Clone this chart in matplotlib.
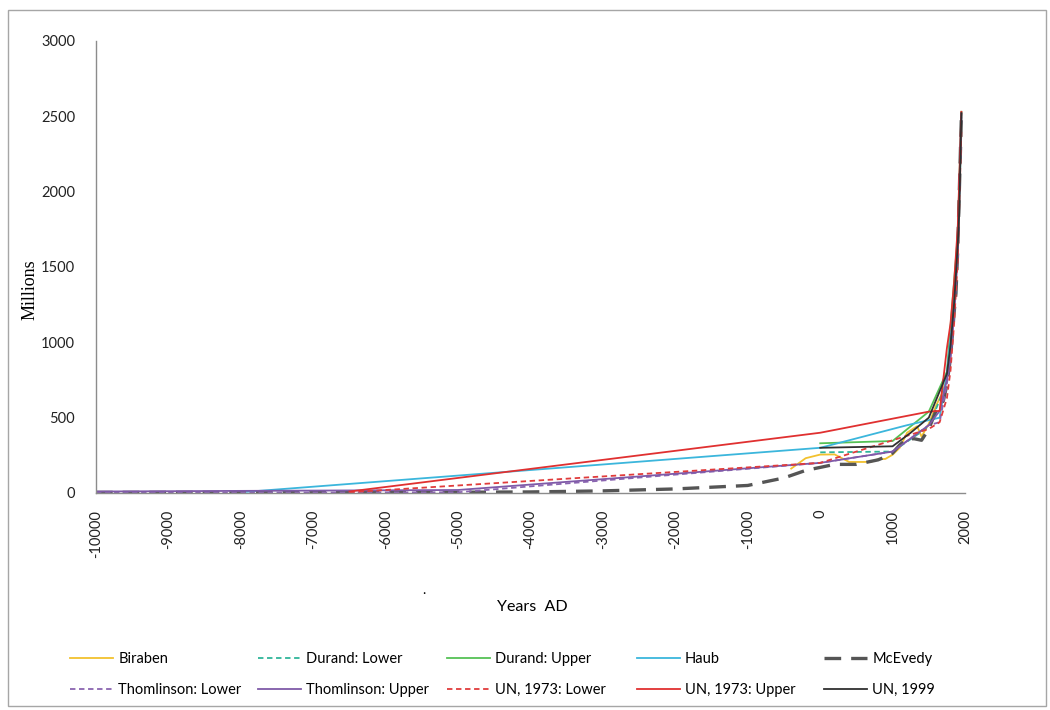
import matplotlib
matplotlib.use('Agg')
import matplotlib.pyplot as plt
from matplotlib.patches import Rectangle

# ---- data (millions) ----
biraben_years = [-400, -200, 1, 200, 400, 500, 600, 700, 800, 900, 1000, 1100, 1200, 1250,
                 1300, 1340, 1400, 1500, 1600, 1700, 1750, 1800, 1850, 1900, 1950]
biraben_vals = [162, 231, 255, 256, 206, 206, 206, 207, 224, 226, 254, 301, 400, 416,
                432, 443, 374, 460, 579, 679, 770, 954, 1241, 1633, 2519]

durand_years = [1, 1000, 1500, 1750, 1900, 1950]
durand_lower = [270, 275, 440, 735, 1650, 2400]
durand_upper = [330, 345, 540, 805, 1710, 2530]

haub_years = [-8000, 1, 1200, 1650, 1750, 1850, 1900, 1950]
haub_vals = [5, 300, 450, 500, 795, 1265, 1656, 2516]

mcevedy_years = [-10000, -5000, -4000, -3000, -2000, -1000, -500, -200, 1, 200, 400,
                 500, 600, 700, 800, 900, 1000, 1100, 1200, 1300, 1400, 1500, 1600, 1700,
                 1750, 1800, 1850, 1875, 1900, 1950]
mcevedy_vals = [4, 5, 7, 14, 27, 50, 100, 150, 170, 190, 190,
                190, 200, 210, 220, 240, 265, 320, 360, 360, 350, 425, 545, 610,
                720, 900, 1200, 1325, 1625, 2500]

thom_years = [-10000, -5000, 1, 1000, 1500, 1650, 1750, 1800, 1850, 1900, 1950]
thom_lower = [1, 5, 200, 275, 450, 470, 725, 900, 1200, 1600, 2500]
thom_upper = [10, 20, 200, 275, 450, 545, 750, 900, 1200, 1600, 2520]

un73_years = [-6500, 1, 1500, 1650, 1750, 1800, 1850, 1900, 1950]
un73_lower = [5, 200, 425, 470, 629, 813, 1128, 1550, 2400]
un73_upper = [10, 400, 540, 545, 961, 1125, 1402, 1762, 2530]

un99_years = [1, 1000, 1250, 1500, 1750, 1800, 1850, 1900, 1910, 1920, 1930, 1940, 1950]
un99_vals = [300, 310, 400, 500, 791, 978, 1262, 1650, 1750, 1860, 2070, 2300, 2521]

x_ticks = list(range(-10000, 2001, 1000))
y_ticks = list(range(0, 3001, 500))

# ---- figure ----
W, H = 1050, 710
fig = plt.figure(figsize=(W / 100, H / 100), dpi=100)
fig.patch.set_facecolor('white')
sans = ['Lato', 'DejaVu Sans']
serif = ['Liberation Serif', 'DejaVu Serif']

ax = fig.add_axes([96 / W, 1 - 493 / H, (965 - 96) / W, (493 - 41) / H])
lw = 1.3
dash = (3, 2)
h = {}
h['Biraben'], = ax.plot(biraben_years, biraben_vals, color='#f2c12e', lw=lw)
h['Durand: Lower'], = ax.plot(durand_years, durand_lower, color='#2fb59a', lw=lw, dashes=dash)
h['Durand: Upper'], = ax.plot(durand_years, durand_upper, color='#55c155', lw=lw)
h['Haub'], = ax.plot(haub_years, haub_vals, color='#3bb6dc', lw=lw)
h['McEvedy'], = ax.plot(mcevedy_years, mcevedy_vals, color='#555555', lw=2.4, dashes=(5, 3))
h['Thomlinson: Lower'], = ax.plot(thom_years, thom_lower, color='#8a64b0', lw=lw, dashes=dash)
h['Thomlinson: Upper'], = ax.plot(thom_years, thom_upper, color='#7f5aa8', lw=lw)
h['UN, 1973: Lower'], = ax.plot(un73_years, un73_lower, color='#e03c3c', lw=lw, dashes=dash)
h['UN, 1973: Upper'], = ax.plot(un73_years, un73_upper, color='#e03030', lw=lw)
h['UN, 1999'], = ax.plot(un99_years, un99_vals, color='#303030', lw=lw)

ax.set_xlim(-10000, 2000)
ax.set_ylim(0, 3000)
ax.set_xticks(x_ticks)
ax.set_yticks(y_ticks)
ax.set_xticklabels([str(v) for v in x_ticks], rotation=90, fontsize=10.5, family=sans,
                   color='#222222')
ax.set_yticklabels([str(v) for v in y_ticks], fontsize=10.5, family=sans, color='#222222')
ax.tick_params(axis='both', length=0)
ax.tick_params(axis='y', pad=15)
ax.tick_params(axis='x', pad=12)
for s in ['top', 'right']:
    ax.spines[s].set_visible(False)
for s in ['left', 'bottom']:
    ax.spines[s].set_color('#8c8c8c')
    ax.spines[s].set_linewidth(1.0)

fig.text(30 / W, 1 - 290 / H, 'Millions', rotation=90, ha='center', va='center',
         fontsize=13, family=serif)
fig.text(532 / W, 1 - 607 / H, 'Years  AD', ha='center', va='center', fontsize=11.5,
         family=sans)
fig.text(424 / W, 1 - 590 / H, '.', ha='center', va='center', fontsize=10, family=sans)

# legend: 5 columns x 2 rows
cols = [('Biraben', 'Thomlinson: Lower'), ('Durand: Lower', 'Thomlinson: Upper'),
        ('Durand: Upper', 'UN, 1973: Lower'), ('Haub', 'UN, 1973: Upper'),
        ('McEvedy', 'UN, 1999')]
col_x = [70, 258, 447, 637, 824]
for (a, b), xx in zip(cols, col_x):
    fig.legend(handles=[h[a], h[b]], labels=[a, b], loc='upper left',
               bbox_to_anchor=(xx / W, 1 - 652 / H), frameon=False, borderpad=0,
               borderaxespad=0, handlelength=2.95, handletextpad=0.35, labelspacing=1.15,
               prop={'family': sans, 'size': 10.5})

fig.add_artist(Rectangle((8 / W, 1 - 706 / H), (1046 - 8) / W, (706 - 10) / H,
                         transform=fig.transFigure, fill=False, edgecolor='#a6a6a6', lw=1.0))

fig.savefig('out.png', dpi=100)
